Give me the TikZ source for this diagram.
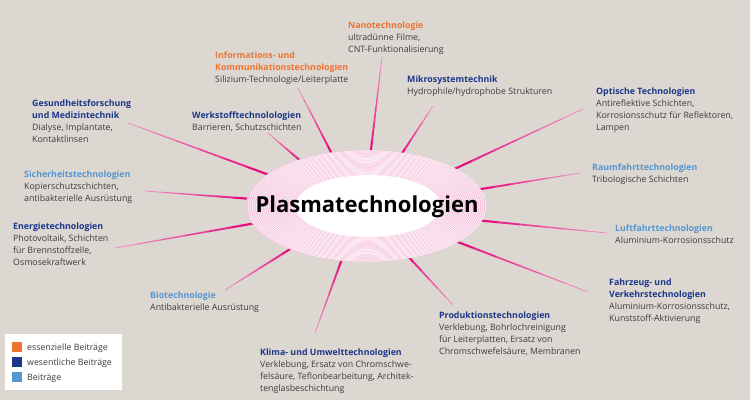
\documentclass[tikz,border=0pt]{standalone}
\usepackage{fontspec}
\setmainfont{Open Sans}
\usetikzlibrary{calc}
\definecolor{bg}{RGB}{221,215,209}
\definecolor{orng}{RGB}{238,115,48}
\definecolor{dblue}{RGB}{28,55,138}
\definecolor{lblue}{RGB}{84,150,208}
\definecolor{txt}{RGB}{60,60,60}
\definecolor{mag}{RGB}{228,16,127}
\definecolor{rpink}{RGB}{246,200,224}
\newcommand\hO[1]{{\color{orng}\bfseries #1}}
\newcommand\hD[1]{{\color{dblue}\bfseries #1}}
\newcommand\hL[1]{{\color{lblue}\bfseries #1}}
\newcommand\spoke[2]{%
  \foreach \spa/\spb/\spwa/\spwb/\spcol in {0/0.177/1.15/1.017/100, 0.167/0.343/1.017/0.883/90,
      0.333/0.51/0.883/0.75/80, 0.5/0.677/0.75/0.617/70, 0.667/0.843/0.617/0.483/60, 0.833/1/0.483/0.35/50}{
    \path ($(#1)!\spa!(#2)$) coordinate (sa) ($(#1)!\spb!(#2)$) coordinate (sb);
    \fill[mag!\spcol!white] ($(sa)!\spwa pt!90:(sb)$) -- ($(sa)!\spwa pt!-90:(sb)$) -- ($(sb)!\spwb pt!90:(sa)$) -- ($(sb)!\spwb pt!-90:(sa)$) -- cycle;
  }}
\begin{document}
\begin{tikzpicture}[x=1pt,y=-1pt,
  lab/.style={anchor=base west, inner sep=0pt, align=left, font=\fontsize{8.8}{12}\selectfont, text=txt},
  legsq/.style={minimum size=10pt, inner sep=0pt, anchor=north west}]
\fill[bg] (0,0) rectangle (750,400);
\useasboundingbox (0,0) rectangle (750,400);

% spoke end points
\coordinate (nano-in) at (370,158);   \coordinate (nano-out) at (382,57);
\coordinate (info-in) at (334,158);   \coordinate (info-out) at (298,88);
\coordinate (mikro-in) at (399,158);  \coordinate (mikro-out) at (433,106);
\coordinate (opt-in) at (448,172);    \coordinate (opt-out) at (583,109);
\coordinate (raum-in) at (475,190);   \coordinate (raum-out) at (580,173);
\coordinate (luft-in) at (475,220);   \coordinate (luft-out) at (607,233);
\coordinate (fahr-in) at (450,239);   \coordinate (fahr-out) at (588,292);
\coordinate (prod-in) at (405,253);   \coordinate (prod-out) at (453,305);
\coordinate (klima-in) at (343,256);  \coordinate (klima-out) at (315,333);
\coordinate (bio-in) at (295,246);    \coordinate (bio-out) at (225,290);
\coordinate (ener-in) at (256,223);   \coordinate (ener-out) at (115,248);
\coordinate (sich-in) at (252,199);   \coordinate (sich-out) at (145,191);
\coordinate (ges-in) at (272,176);    \coordinate (ges-out) at (128,123);
\coordinate (werk-in) at (303,163);   \coordinate (werk-out) at (268,133);

\foreach \spname in {nano,info,mikro,opt,raum,luft,fahr,prod,klima,bio,ener,sich,ges,werk}{\spoke{\spname-in}{\spname-out}}

% central ellipse
\fill[rpink] (366,206) ellipse [x radius=120, y radius=56];
\foreach \i in {0,...,22}{
  \draw[white, line width=0.4pt] (367,206) ellipse [x radius={74+\i*2.04}, y radius={31.5+\i*1.08}];
}
\fill[white] (368,206) ellipse [x radius=73, y radius=31];
\node[font=\fontsize{22}{26}\selectfont\bfseries, text=black, inner sep=0pt] (center) at (367,207) {Plasmatechnologien};

% labels (anchored at the baseline of the last line)
\node[lab] (nano) at (348,52.5) {\hO{Nanotechnologie}\\ultradünne Filme,\\CNT-Funktionalisierung};
\node[lab] (info) at (215,82.5) {\hO{Informations- und}\\\hO{Kommunikationstechnologien}\\Silizium-Technologie/Leiterplatte};
\node[lab] (mikro) at (407,94.5) {\hD{Mikrosystemtechnik}\\Hydrophile/hydrophobe Strukturen};
\node[lab] (opt) at (596,130.5) {\hD{Optische Technologien}\\Antireflektive Schichten,\\Korrosionsschutz für Reflektoren,\\Lampen};
\node[lab] (raum) at (592,182.5) {\hL{Raumfahrttechnologien}\\Tribologische Schichten};
\node[lab] (luft) at (615,243) {\hL{Luftfahrttechnologien}\\Aluminium-Korrosionsschutz};
\node[lab] (fahr) at (609,321.5) {\hD{Fahrzeug- und}\\\hD{Verkehrstechnologien}\\Aluminium-Korrosionsschutz,\\Kunststoff-Aktivierung};
\node[lab] (prod) at (439,354.5) {\hD{Produktionstechnologien}\\Verklebung, Bohrlochreinigung\\für Leiterplatten, Ersatz von\\Chromschwefelsäure, Membranen};
\node[lab] (klima) at (260,391) {\hD{Klima- und Umwelttechnologien}\\Verklebung, Ersatz von Chromschwe-\\felsäure, Teflonbearbeitung, Architek-\\tenglasbeschichtung};
\node[lab] (bio) at (150,310.5) {\hL{Biotechnologie}\\Antibakterielle Ausrüstung};
\node[lab] (ener) at (13,265) {\hD{Energietechnologien}\\Photovoltaik, Schichten\\für Brennstoffzelle,\\Osmosekraftwerk};
\node[lab] (sich) at (24,201.5) {\hL{Sicherheitstechnologien}\\Kopierschutzschichten,\\antibakterielle Ausrüstung};
\node[lab] (ges) at (32,142.5) {\hD{Gesundheitsforschung}\\\hD{und Medizintechnik}\\Dialyse, Implantate,\\Kontaktlinsen};
\node[lab] (werk) at (192,130.5) {\hD{Werkstofftechnolologien}\\Barrieren, Schutzschichten};

% legend
\fill[white] (5,334) rectangle (122,390);
\node[legsq, fill=orng] (sq1) at (12,342) {};
\node[legsq, fill=dblue] (sq2) at (12,357) {};
\node[legsq, fill=lblue] (sq3) at (12,372) {};
\node[lab] (leg1) at (27,350.5) {essenzielle Beiträge};
\node[lab] (leg2) at (27,365.5) {wesentliche Beiträge};
\node[lab] (leg3) at (27,380.5) {Beiträge};
\end{tikzpicture}
\end{document}
